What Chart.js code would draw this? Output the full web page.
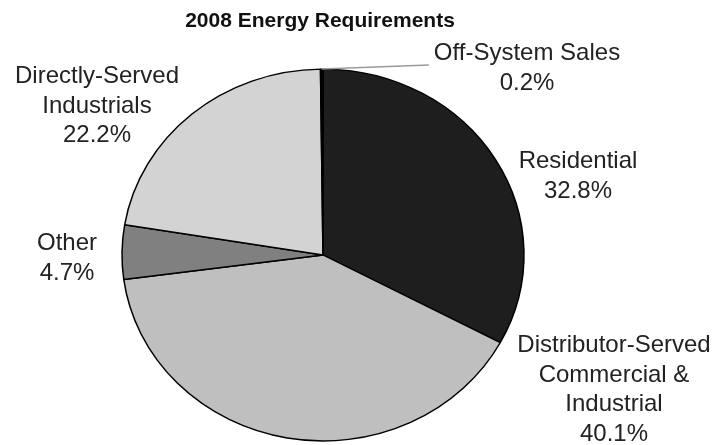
<!DOCTYPE html>
<html><head><meta charset="utf-8">
<script src="https://cdn.jsdelivr.net/npm/chart.js@4"></script>
<style>html,body{margin:0;padding:0;background:#fff}#wrap{width:717px;height:445px;position:relative}</style>
</head><body><div id="wrap"><canvas id="c" width="717" height="445"></canvas></div>
<script>
// ---- data ----
const chartTitle = '2008 Energy Requirements';
const categories = ['Residential', 'Distributor-Served Commercial & Industrial', 'Other', 'Directly-Served Industrials', 'Off-System Sales'];
const categoryLines = [['Residential'], ['Distributor-Served', 'Commercial &', 'Industrial'], ['Other'], ['Directly-Served', 'Industrials'], ['Off-System Sales']];
const shares = [32.8, 40.1, 4.7, 22.2, 0.2];

// ---- style ----
const sliceColors = ['#1e1e1e', '#bfbfbf', '#808080', '#d3d3d3', '#000000'];
const Y_SCALE = 0.925;          // reference pie is slightly flattened
const FONT = '"Liberation Sans", Arial, sans-serif';
const LINE_H = 29.5;
// label anchor offsets (centre x, first baseline) relative to pie centre
const labelOffsets = [[255, -87], [291, 97], [-256, -5], [-226, -172], [204, -195]];
const leaderFor = [false, false, false, false, true];

const ellipse = {
  id: 'ellipse',
  beforeDatasetsDraw(chart) {
    const a = chart.getDatasetMeta(0).data[0];
    const ctx = chart.ctx;
    ctx.save();
    ctx.translate(a.x, a.y); ctx.scale(1, Y_SCALE); ctx.translate(-a.x, -a.y);
  },
  afterDatasetsDraw(chart) { chart.ctx.restore(); }
};

const labels = {
  id: 'labels',
  afterDraw(chart) {
    const ctx = chart.ctx;
    const arcs = chart.getDatasetMeta(0).data;
    const cx = arcs[0].x, cy = arcs[0].y, r = arcs[0].outerRadius;
    ctx.save();
    // title
    ctx.fillStyle = '#111';
    ctx.font = 'bold 21px ' + FONT;
    ctx.textAlign = 'center';
    ctx.textBaseline = 'alphabetic';
    ctx.fillText(chartTitle, cx - 3, cy - 228);
    ctx.font = '24px ' + FONT;
    ctx.fillStyle = '#222';
    arcs.forEach((arc, i) => {
      const lines = categoryLines[i].concat([shares[i].toFixed(1) + '%']);
      const x = cx + labelOffsets[i][0];
      const y0 = cy + labelOffsets[i][1];
      lines.forEach((t, k) => ctx.fillText(t, x, y0 + k * LINE_H));
      if (leaderFor[i]) {
        const mid = (arc.startAngle + arc.endAngle) / 2;
        const w = ctx.measureText(lines[0]).width;
        ctx.strokeStyle = '#9a9a9a';
        ctx.lineWidth = 1.5;
        ctx.beginPath();
        ctx.moveTo(cx + r * Math.cos(mid), cy + r * Math.sin(mid) * Y_SCALE);
        ctx.lineTo(x - w / 2 - 5, y0 + 5);
        ctx.stroke();
      }
    });
    ctx.restore();
  }
};

new Chart(document.getElementById('c'), {
  type: 'pie',
  data: {
    labels: categories,
    datasets: [{
      data: shares,
      backgroundColor: sliceColors,
      borderColor: '#000',
      borderWidth: 1.5,
      radius: 201
    }]
  },
  options: {
    responsive: false,
    animation: false,
    events: [],
    layout: { padding: { left: 0, right: 71, top: 65, bottom: 0 } },
    plugins: { legend: { display: false }, title: { display: false }, tooltip: { enabled: false } }
  },
  plugins: [ellipse, labels]
});
</script></body></html>
